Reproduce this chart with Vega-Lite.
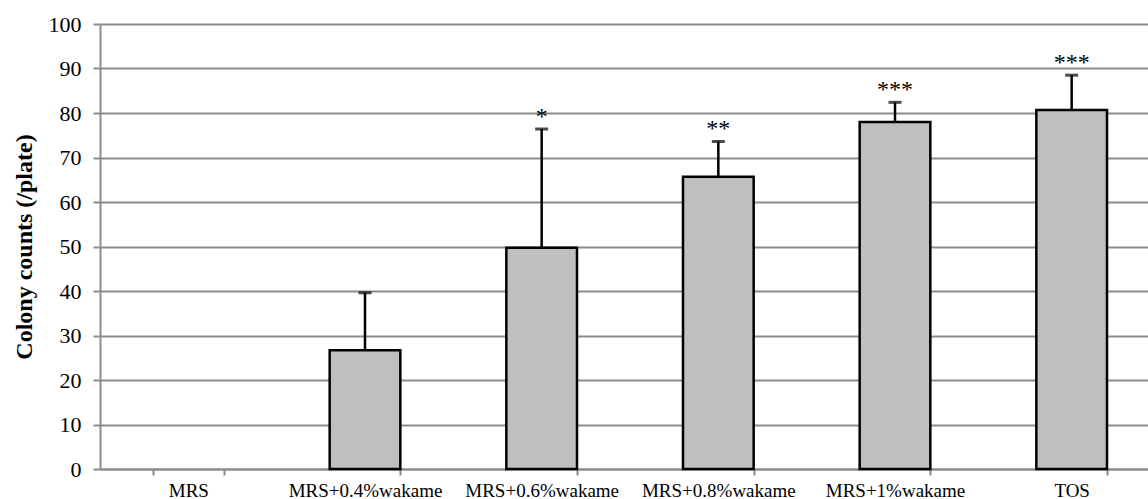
{
  "$schema": "https://vega.github.io/schema/vega-lite/v6.json",
  "autosize": {"type": "none"},
  "width": 1048,
  "height": 445,
  "padding": {"left": 100, "top": 24, "right": 0, "bottom": 30},
  "background": "white",
  "config": {
    "view": {"stroke": null},
    "font": "Liberation Serif"
  },
  "data": {
    "values": [
      {"group": "MRS", "mean": null, "upper": null, "sig": ""},
      {"group": "MRS+0.4%wakame", "mean": 26.7, "upper": 39.6, "sig": ""},
      {"group": "MRS+0.6%wakame", "mean": 49.7, "upper": 76.4, "sig": "*"},
      {"group": "MRS+0.8%wakame", "mean": 65.7, "upper": 73.6, "sig": "**"},
      {"group": "MRS+1%wakame", "mean": 78.0, "upper": 82.4, "sig": "***"},
      {"group": "TOS", "mean": 80.7, "upper": 88.5, "sig": "***"}
    ]
  },
  "encoding": {
    "x": {
      "field": "group",
      "type": "nominal",
      "sort": null,
      "scale": {
        "domain": ["MRS", "MRS+0.4%wakame", "MRS+0.6%wakame", "MRS+0.8%wakame", "MRS+1%wakame", "TOS"],
        "range": [0, 1060],
        "paddingInner": 0.6,
        "paddingOuter": 0.3
      },
      "axis": {
        "title": null,
        "labelAngle": 0,
        "labelFont": "Liberation Serif",
        "labelFontSize": 19,
        "labelColor": "#000000",
        "labelPadding": 6,
        "tickBand": "extent",
        "tickSize": 6,
        "tickWidth": 2,
        "tickColor": "#8c8c8c",
        "domainColor": "#8c8c8c",
        "domainWidth": 2
      }
    }
  },
  "layer": [
    {
      "mark": {"type": "bar", "fill": "#bfbfbf", "stroke": "#000000", "strokeWidth": 2.5},
      "encoding": {
        "y": {
          "field": "mean",
          "type": "quantitative",
          "scale": {"domain": [0, 100], "nice": false},
          "axis": {
            "title": "Colony counts (/plate)",
            "titleFont": "Liberation Serif",
            "titleFontSize": 24,
            "titleFontWeight": "bold",
            "titleColor": "#000000",
            "titlePadding": 12,
            "values": [0, 10, 20, 30, 40, 50, 60, 70, 80, 90, 100],
            "labelFont": "Liberation Serif",
            "labelFontSize": 22,
            "labelColor": "#000000",
            "labelPadding": 12,
            "tickSize": 7,
            "tickWidth": 2,
            "tickColor": "#8c8c8c",
            "domainColor": "#8c8c8c",
            "domainWidth": 2,
            "grid": true,
            "gridColor": "#8c8c8c",
            "gridWidth": 2
          }
        }
      }
    },
    {
      "mark": {"type": "rule", "color": "#000000", "strokeWidth": 2.5},
      "encoding": {
        "y": {"field": "mean", "type": "quantitative"},
        "y2": {"field": "upper"}
      }
    },
    {
      "mark": {"type": "tick", "color": "#000000", "size": 13, "thickness": 3, "orient": "horizontal"},
      "encoding": {
        "y": {"field": "upper", "type": "quantitative"}
      }
    },
    {
      "mark": {"type": "text", "font": "Liberation Serif", "fontSize": 24, "color": "#000000", "baseline": "alphabetic", "dy": -5},
      "encoding": {
        "y": {"field": "upper", "type": "quantitative"},
        "text": {"field": "sig"}
      }
    }
  ]
}
